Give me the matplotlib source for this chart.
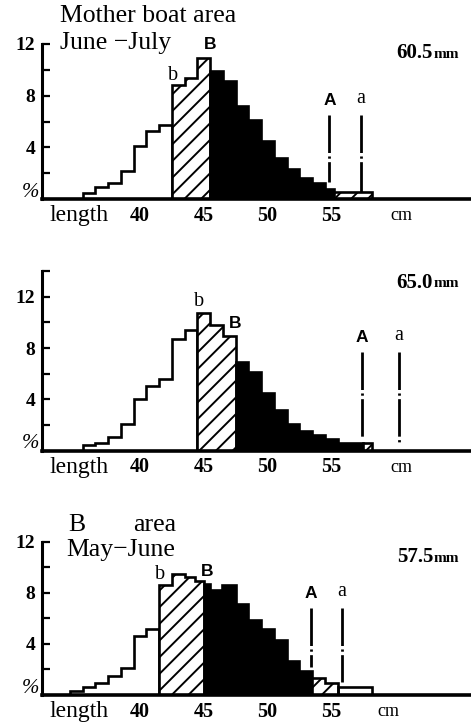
import matplotlib
matplotlib.use('Agg')
import matplotlib.pyplot as plt

plt.rcParams['hatch.linewidth'] = 1.4
plt.rcParams['hatch.color'] = 'black'
plt.rcParams['lines.scale_dashes'] = False

SERIF = ['Liberation Serif', 'DejaVu Serif']
SANS = ['Liberation Sans', 'DejaVu Sans']

# ---------------- data ----------------
# bin edges (cm), percentages, fill type (w=white, h=hatched, k=black)
edges1 = [35.5, 36.5, 37.5, 38.5, 39.5, 40.5, 41.5, 42.5, 43.5, 44.5, 45.5,
          46.5, 47.5, 48.5, 49.5, 50.5, 51.5, 52.5, 53.5, 54.5, 55.2, 58.2]
pct1 = [0.5, 0.9, 1.25, 2.2, 4.1, 5.3, 5.75, 8.8, 9.4, 10.9, 9.9, 9.1, 7.2,
        6.1, 4.5, 3.2, 2.3, 1.6, 1.25, 0.75, 0.55]
fill1 = "wwwwwwwhhhkkkkkkkkkkh"

edges2 = [35.5, 36.5, 37.5, 38.5, 39.5, 40.5, 41.5, 42.5, 43.5, 44.5, 45.5,
          46.5, 47.5, 48.5, 49.5, 50.5, 51.5, 52.5, 53.5, 54.5, 55.5, 56.5,
          57.5, 58.2]
pct2 = [0.44, 0.62, 1.04, 2.08, 4.0, 5.06, 5.56, 8.68, 9.4, 10.7, 9.8, 8.9,
        6.9, 6.1, 4.5, 3.2, 2.1, 1.56, 1.22, 0.88, 0.57, 0.57, 0.57]
fill2 = "wwwwwwwwwhhhkkkkkkkkkkh"

edges3 = [34.5, 35.5, 36.5, 37.5, 38.5, 39.5, 40.5, 41.5, 42.5, 43.5, 44.3,
          45.0, 45.5, 46.4, 47.5, 48.5, 49.5, 50.5, 51.5, 52.5, 53.5, 54.5,
          55.5, 58.2]
pct3 = [0.34, 0.65, 0.91, 1.48, 2.08, 4.6, 5.13, 8.6, 9.5, 9.2, 8.9, 8.7,
        8.2, 8.6, 7.1, 5.86, 5.13, 4.3, 2.68, 1.9, 1.3, 0.96, 0.65]
fill3 = "wwwwwwwhhhhkkkkkkkkkhhw"

mean_labels = ["60.5", "65.0", "57.5"]
A_pos = [54.85, 57.4, 53.4]
A_span = [(6.5, 1.3), (7.7, 1.0), (6.8, 2.2)]
a_pos = [57.3, 60.3, 55.85]
a_span = [(6.5, 0.57), (7.7, 0.5), (6.8, 1.04)]
B_lab = [(45.5, 11.95), (47.45, 9.93), (45.3, 9.65)]
b_lab = [(42.6, 9.6), (44.65, 11.6), (41.6, 9.4)]
ytop = [12, 14, 12]
x_labels = ["40", "45", "50", "55"]
x_label_pos = [40, 45, 50, 55]

W, H = 471, 726
fig = plt.figure(figsize=(W / 100, H / 100), dpi=100)

def fx(px):
    return px / W

def fy(py):
    return 1 - py / H

# axes boxes in pixels: (left, baseline_y, top_y)
boxes = [(42, 199, 44), (42, 450.7, 271), (42, 695, 541.7)]
right_px = 470

panels = [(edges1, pct1, fill1), (edges2, pct2, fill2), (edges3, pct3, fill3)]
dash = (0, (27, 2.5, 1.6, 2.5))

for i, ((l, base, top), (edges, pct, fill)) in enumerate(zip(boxes, panels)):
    ax = fig.add_axes([fx(l), fy(base), fx(right_px) - fx(l), (base - top) / H])
    ax.set_xlim(32.31, 65.88)
    ax.set_ylim(0, ytop[i])
    for s in ['top', 'right']:
        ax.spines[s].set_visible(False)
    ax.spines['left'].set_linewidth(2.2)
    ax.spines['bottom'].set_linewidth(2.6)
    ax.spines['left'].set_zorder(5)
    ax.spines['bottom'].set_zorder(5)
    ax.patch.set_visible(False)

    # runs of same fill type
    start = 0
    for j in range(1, len(fill) + 1):
        if j == len(fill) or fill[j] != fill[start]:
            e = edges[start:j + 1]
            h = pct[start:j]
            t = fill[start]
            if t == 'w':
                ax.stairs(h, e, baseline=0, fill=False, color='black', lw=1.9, zorder=3)
            elif t == 'h':
                ax.stairs(h, e, baseline=0, fill=True, facecolor='white',
                          edgecolor='black', hatch='//', lw=1.9, zorder=3)
            else:
                ax.stairs(h, e, baseline=0, fill=True, facecolor='black',
                          edgecolor='black', lw=1.9, zorder=3)
            start = j

    # y ticks
    ax.set_yticks(list(range(0, ytop[i] + 1, 2)))
    ax.set_yticklabels(['' if (v == 0 or v % 4) else str(v) for v in range(0, ytop[i] + 1, 2)],
                       fontfamily=SERIF, fontweight='bold', fontsize=14)
    ax.tick_params(axis='y', direction='in', length=6, width=1.6, pad=5)
    ax.set_xticks([])
    ax.annotate('%', xy=(0, 0), xycoords=('axes fraction', 'data'),
                xytext=(-8, 5), textcoords='offset points', ha='center', va='center',
                fontfamily=SERIF, fontstyle='italic', fontsize=15)

    # x labels
    for xl, xp in zip(x_labels, x_label_pos):
        ax.annotate(xl, xy=(xp, 0), xycoords='data', xytext=(0, -12),
                    textcoords='offset points', ha='center', va='center',
                    fontfamily=SERIF, fontweight='bold', fontsize=14.5)
    ax.annotate('length', xy=(35.2, 0), xycoords='data', xytext=(0, -12),
                textcoords='offset points', ha='center', va='center',
                fontfamily=SERIF, fontsize=17)
    ax.annotate('cm', xy=(60.5 if i < 2 else 59.5, 0), xycoords='data', xytext=(0, -12),
                textcoords='offset points', ha='center', va='center',
                fontfamily=SERIF, fontsize=13)

    # A / a lines
    ax.plot([A_pos[i], A_pos[i]], list(A_span[i]), color='black', lw=2, ls=dash, zorder=4)
    ax.plot([a_pos[i], a_pos[i]], list(a_span[i]), color='black', lw=2, ls=dash, zorder=4)
    ax.annotate('A', xy=(A_pos[i], A_span[i][0]), xytext=(0, 5), textcoords='offset points',
                ha='center', va='bottom', fontfamily=SANS, fontweight='bold', fontsize=12.5)
    ax.annotate('a', xy=(a_pos[i], a_span[i][0]), xytext=(0, 5), textcoords='offset points',
                ha='center', va='bottom', fontfamily=SERIF, fontsize=14.5)
    ax.text(B_lab[i][0], B_lab[i][1], 'B', ha='center', va='center',
            fontfamily=SANS, fontweight='bold', fontsize=12.5, clip_on=False)
    ax.text(b_lab[i][0], b_lab[i][1], 'b', ha='center', va='center',
            fontfamily=SERIF, fontsize=14.5, clip_on=False)

# mean labels (right side)
mean_y = [53, 283, 557]
for lab, yy in zip(mean_labels, mean_y):
    fig.text(fx(433), fy(yy), lab, ha='right', va='center', fontfamily=SERIF,
             fontweight='bold', fontsize=15)
    fig.text(fx(434), fy(yy + 1), 'mm', ha='left', va='center', fontfamily=SERIF,
             fontweight='bold', fontsize=11)

# titles
fig.text(fx(60), fy(22.5), 'Mother boat area', ha='left', va='baseline',
         fontfamily=SERIF, fontsize=18.5)
fig.text(fx(60), fy(49), 'June \u2212July', ha='left', va='baseline',
         fontfamily=SERIF, fontsize=18.5)
fig.text(fx(68), fy(531), 'B', ha='left', va='baseline', fontfamily=SERIF, fontsize=18.5)
fig.text(fx(133), fy(531), 'area', ha='left', va='baseline', fontfamily=SERIF, fontsize=18.5)
fig.text(fx(66), fy(556), 'May\u2212June', ha='left', va='baseline',
         fontfamily=SERIF, fontsize=18.5)

fig.savefig('out.png', dpi=100)
